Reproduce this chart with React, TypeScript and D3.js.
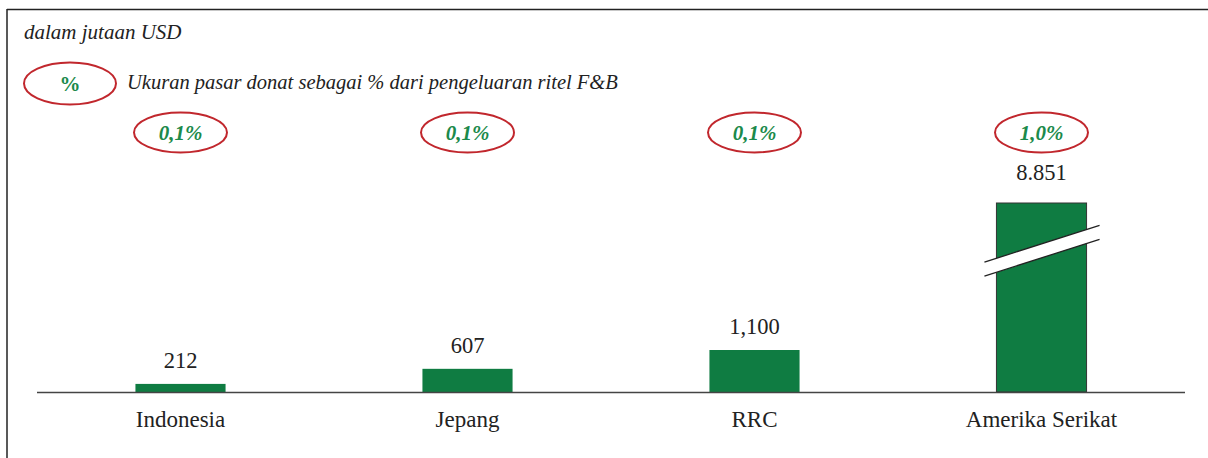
import React, { useEffect, useRef } from 'react';
import * as d3 from 'd3';

// data
const countries = ['Indonesia', 'Jepang', 'RRC', 'Amerika Serikat'];
const marketSize = [212, 607, 1100, 8851];
const valueLabels = ['212', '607', '1,100', '8.851'];
const shareOfRetail = ['0,1%', '0,1%', '0,1%', '1,0%'];

const unitNote = 'dalam jutaan USD';
const legendText = 'Ukuran pasar donat sebagai % dari pengeluaran ritel F&B';

// bars taller than this are drawn cut with a break mark
const breakCap = 4950;
const breakAt = 3700;

const GREEN = '#0f7c42';
const RED = '#c1272d';
const PCT_GREEN = '#1b8a4b';
const SERIF = '"Liberation Serif", "Times New Roman", serif';

const App = () => {
  const svgRef = useRef(null);

  useEffect(() => {
    const svg = d3.select(svgRef.current);
    svg.selectAll('*').remove();

    const W = 1208;
    const H = 458;
    svg.attr('width', W).attr('height', H);

    // frame: top and left edges
    svg.append('line')
      .attr('x1', 7).attr('x2', W).attr('y1', 9.5).attr('y2', 9.5)
      .style('stroke', '#222').style('stroke-width', 1.5);
    svg.append('line')
      .attr('x1', 7).attr('x2', 7).attr('y1', 9).attr('y2', H)
      .style('stroke', '#222').style('stroke-width', 1.5);

    const x = d3.scaleBand()
      .domain(countries)
      .range([37, 1185])
      .paddingInner(0.686)
      .paddingOuter(0.343);

    const baseY = 392;
    const y = d3.scaleLinear()
      .domain([0, breakCap])
      .range([baseY, 203]);

    const shown = v => Math.min(v, breakCap);

    // unit note
    svg.append('text')
      .attr('x', 24).attr('y', 39)
      .style('font-family', SERIF).style('font-style', 'italic')
      .style('font-size', '21px').style('fill', '#222')
      .text(unitNote);

    // legend
    svg.append('ellipse')
      .attr('cx', 70).attr('cy', 83.5).attr('rx', 46).attr('ry', 21)
      .style('fill', 'none').style('stroke', RED).style('stroke-width', 2);
    svg.append('text')
      .attr('x', 70).attr('y', 91)
      .attr('text-anchor', 'middle')
      .style('font-family', SERIF).style('font-weight', 'bold')
      .style('font-size', '21px').style('fill', PCT_GREEN)
      .text('%');
    svg.append('text')
      .attr('x', 127).attr('y', 89)
      .style('font-family', SERIF).style('font-style', 'italic')
      .style('font-size', '20.5px').style('fill', '#222')
      .text(legendText);

    const g = svg.append('g');

    // bars
    g.selectAll('.bar')
      .data(countries)
      .enter().append('rect')
      .attr('class', 'bar')
      .attr('x', d => x(d))
      .attr('width', x.bandwidth())
      .attr('y', (d, i) => y(shown(marketSize[i])))
      .attr('height', (d, i) => baseY - y(shown(marketSize[i])))
      .style('fill', GREEN)
      .style('stroke', (d, i) => marketSize[i] > breakCap ? '#333' : 'none')
      .style('stroke-width', 1);

    // break mark on bars beyond the cap
    countries.forEach((c, i) => {
      if (marketSize[i] <= breakCap) return;
      const x0 = x(c) - 12;
      const x1 = x(c) + x.bandwidth() + 13;
      const yc = y(breakAt);
      const rise = (x1 - x0) * 0.32 / 2;
      const gap = 7;
      const gb = g.append('g');
      gb.append('polygon')
        .attr('points', [
          [x0, yc + rise - gap], [x1, yc - rise - gap],
          [x1, yc - rise + gap], [x0, yc + rise + gap]
        ].map(p => p.join(',')).join(' '))
        .style('fill', '#fff');
      [-gap, gap].forEach(o => {
        gb.append('line')
          .attr('x1', x0).attr('y1', yc + rise + o)
          .attr('x2', x1).attr('y2', yc - rise + o)
          .style('stroke', '#222').style('stroke-width', 1.3);
      });
    });

    // baseline
    g.append('line')
      .attr('x1', 37).attr('x2', 1185)
      .attr('y1', baseY + 0.5).attr('y2', baseY + 0.5)
      .style('stroke', '#444').style('stroke-width', 1.5);

    // value labels
    g.selectAll('.val')
      .data(countries)
      .enter().append('text')
      .attr('class', 'val')
      .attr('x', d => x(d) + x.bandwidth() / 2)
      .attr('y', (d, i) => y(shown(marketSize[i])) - (marketSize[i] > breakCap ? 23 : 16))
      .attr('text-anchor', 'middle')
      .style('font-family', SERIF).style('font-size', '22.5px').style('fill', '#222')
      .text((d, i) => valueLabels[i]);

    // category labels
    g.selectAll('.cat')
      .data(countries)
      .enter().append('text')
      .attr('class', 'cat')
      .attr('x', d => x(d) + x.bandwidth() / 2)
      .attr('y', 427)
      .attr('text-anchor', 'middle')
      .style('font-family', SERIF).style('font-size', '23px').style('fill', '#222')
      .text(d => d);

    // share-of-retail ellipses
    g.selectAll('.pctRing')
      .data(countries)
      .enter().append('ellipse')
      .attr('class', 'pctRing')
      .attr('cx', d => x(d) + x.bandwidth() / 2)
      .attr('cy', 132.5).attr('rx', 46.5).attr('ry', 20)
      .style('fill', 'none').style('stroke', RED).style('stroke-width', 2);
    g.selectAll('.pct')
      .data(countries)
      .enter().append('text')
      .attr('class', 'pct')
      .attr('x', d => x(d) + x.bandwidth() / 2)
      .attr('y', 139.5)
      .attr('text-anchor', 'middle')
      .style('font-family', SERIF).style('font-weight', 'bold').style('font-style', 'italic')
      .style('font-size', '21px').style('fill', PCT_GREEN)
      .text((d, i) => shareOfRetail[i]);
  }, []);

  return (
    <div style={{ position: 'absolute', left: 0, top: 0 }}>
      <svg ref={svgRef}></svg>
    </div>
  );
};

export default App;
